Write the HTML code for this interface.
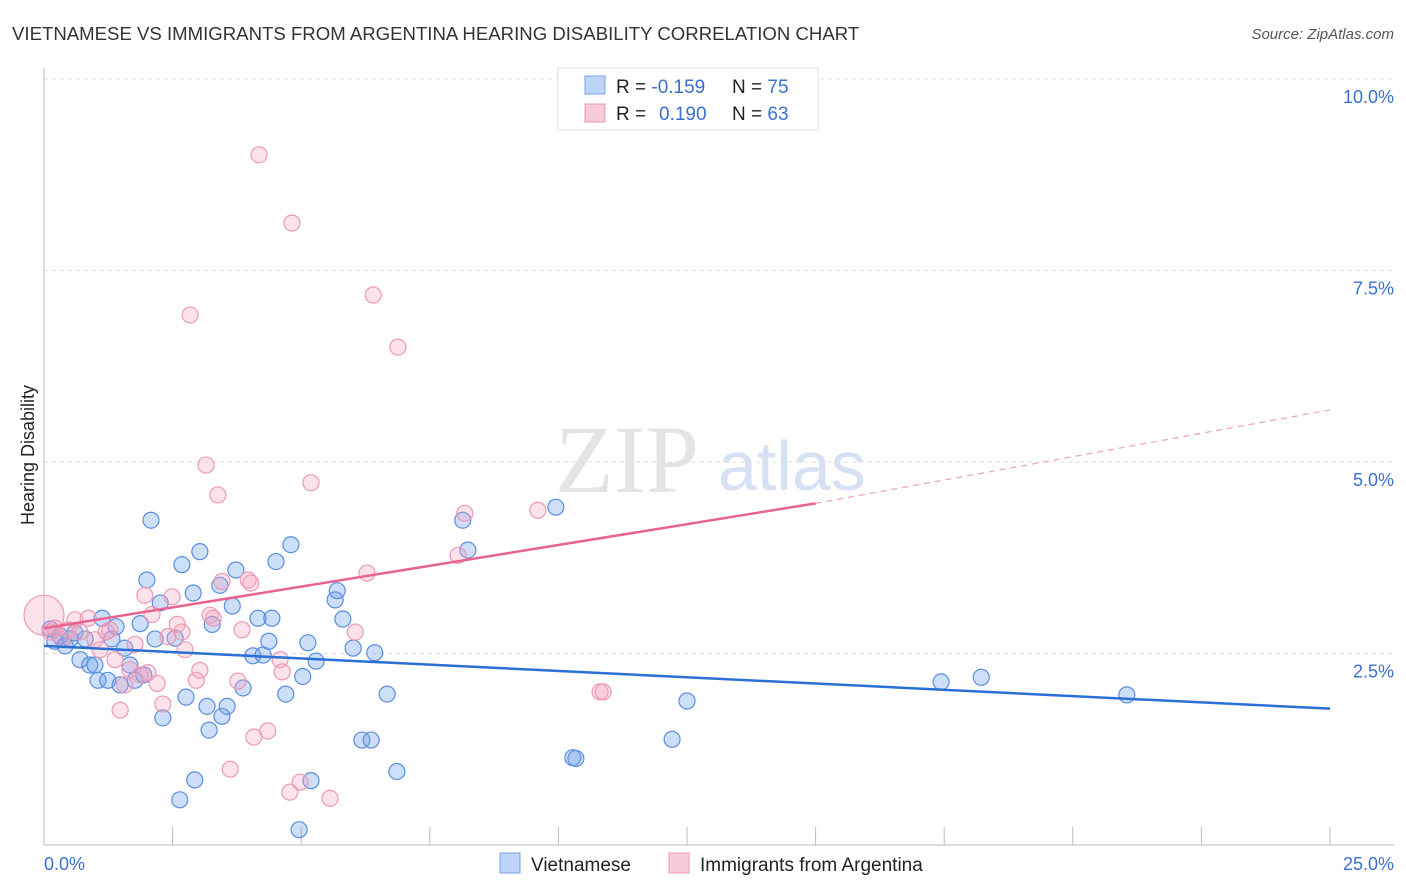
<!DOCTYPE html>
<html><head><meta charset="utf-8"><style>
body{margin:0;background:#fff;font-family:"Liberation Sans",sans-serif;}
svg{display:block}
</style></head><body>
<svg id="chart" width="1406" height="892" viewBox="0 0 1406 892">
<text x="12" y="40" font-size="18.6" fill="#333">VIETNAMESE VS IMMIGRANTS FROM ARGENTINA HEARING DISABILITY CORRELATION CHART</text>
<text x="1394" y="39" font-size="15" fill="#555" font-style="italic" text-anchor="end">Source: ZipAtlas.com</text>
<text x="555" y="492" font-size="96" fill="#e4e4e4" font-family="Liberation Serif,serif">ZIP</text>
<text x="718" y="490" font-size="70" fill="#d6e2f4">atlas</text>
<g id="grid"></g>
<g id="axes"></g>
<g id="points"></g>
<g id="lines"></g>
<text transform="translate(34,455) rotate(-90)" font-size="18" fill="#222" text-anchor="middle">Hearing Disability</text>
<text x="44" y="870" font-size="18" fill="#3a70d0">0.0%</text>
<text x="1394" y="870" font-size="18" fill="#3a70d0" text-anchor="end">25.0%</text>
<g>
<rect x="558" y="68" width="260" height="62" fill="#fff" stroke="#ddd"/>
<rect x="585" y="76" width="20" height="18" fill="#bcd4f6" stroke="#7aa3e6"/>
<rect x="585" y="104" width="20" height="18" fill="#f8cbd9" stroke="#ec9ab4"/>
<text x="616" y="93" font-size="19" fill="#222">R = <tspan fill="#3a70d0">-0.159</tspan><tspan x="732">N = </tspan><tspan fill="#3a70d0">75</tspan></text>
<text x="616" y="120" font-size="19" fill="#222">R = <tspan fill="#3a70d0" x="659">0.190</tspan><tspan x="732">N = </tspan><tspan fill="#3a70d0">63</tspan></text>
</g>
<g>
<rect x="500" y="853" width="20" height="20" fill="#bcd4f6" stroke="#7aa3e6"/>
<text x="531" y="871" font-size="19" fill="#222">Vietnamese</text>
<rect x="669" y="853" width="20" height="20" fill="#f8cbd9" stroke="#ec9ab4"/>
<text x="700" y="871" font-size="19" fill="#222">Immigrants from Argentina</text>
</g>
</svg>
<script>
const yTicks=[2.5,5.0,7.5,10.0];
const xTicks=[0,2.5,5,7.5,10,12.5,15,17.5,20,22.5,25];
const blueX=[0.12,0.21,0.31,0.41,0.51,0.60,0.70,0.80,0.89,0.99,1.05,1.13,1.24,1.32,1.40,1.48,1.57,1.67,1.77,1.87,1.94,2.00,2.08,2.16,2.26,2.31,2.55,2.64,2.68,2.76,2.90,2.93,3.03,3.17,3.21,3.27,3.42,3.46,3.56,3.66,3.73,3.87,4.06,4.16,4.26,4.37,4.43,4.51,4.70,4.80,4.96,5.03,5.13,5.19,5.29,5.66,5.70,5.81,6.01,6.18,6.36,6.43,6.67,6.86,8.14,8.24,9.95,10.28,10.34,12.21,12.50,17.44,18.22,21.05];
const blueY=[2.82,2.66,2.73,2.60,2.69,2.77,2.42,2.69,2.35,2.35,2.15,2.96,2.15,2.69,2.85,2.09,2.57,2.35,2.15,2.89,2.22,3.46,4.24,2.69,3.16,1.66,2.70,0.59,3.66,1.93,3.29,0.85,3.83,1.81,1.50,2.88,3.39,1.68,1.81,3.12,3.59,2.05,2.47,2.96,2.48,2.66,2.96,3.70,1.97,3.92,0.20,2.20,2.64,0.84,2.40,3.20,3.32,2.95,2.57,1.37,1.37,2.51,1.97,0.96,4.24,3.85,4.41,1.14,1.13,1.38,1.88,2.13,2.19,1.96];
const pinkX=[0.0,0.12,0.21,0.35,0.47,0.60,0.70,0.86,0.99,1.09,1.21,1.28,1.38,1.48,1.57,1.67,1.77,1.87,1.96,2.02,2.10,2.20,2.31,2.41,2.49,2.59,2.68,2.74,2.84,2.96,3.03,3.15,3.23,3.29,3.38,3.46,3.62,3.77,3.85,3.97,4.02,4.08,4.18,4.35,4.59,4.63,4.78,4.82,4.98,5.19,5.56,6.05,6.28,6.40,6.88,8.05,8.18,9.60,10.81,10.87];
const pinkY=[3.00,2.78,2.83,2.68,2.81,2.94,2.78,2.96,2.68,2.55,2.78,2.81,2.42,1.76,2.09,2.29,2.62,2.22,3.26,2.25,3.01,2.11,1.84,2.72,3.24,2.88,2.78,2.55,6.92,2.15,2.28,4.96,3.00,2.96,4.57,3.44,0.99,2.14,2.81,3.46,3.42,1.41,9.01,1.49,2.42,2.26,0.69,8.12,0.82,4.73,0.61,2.78,3.55,7.18,6.50,3.78,4.33,4.37,2.00,2.00];
const blueLine=[2.6,1.78];
const pinkLine=[2.83,4.46,5.68];
const NS='http://www.w3.org/2000/svg';
const X=v=>44+v*(1286/25);
const Y=v=>845-v*76.6;
function mk(t,a,p){const e=document.createElementNS(NS,t);for(const k in a)e.setAttribute(k,a[k]);p.appendChild(e);return e;}
const grid=document.getElementById('grid'),axes=document.getElementById('axes'),pts=document.getElementById('points'),lines=document.getElementById('lines');
yTicks.forEach(t=>{
 const l=mk('line',{x1:44,x2:1394,y1:Y(t),y2:Y(t),stroke:'#ddd','stroke-dasharray':'4,4'},grid);
 
 
 const tx=mk('text',{x:1394,y:Y(t)+24,'font-size':18,fill:'#3a70d0','text-anchor':'end'},grid);
 tx.textContent=t.toFixed(1)+'%';
 
 
});
const ax=mk('line',{x1:44,x2:44,y1:68,y2:845,stroke:'#bbb'},axes);


const bx=mk('line',{x1:44,x2:1394,y1:845,y2:845,stroke:'#bbb'},axes);


xTicks.forEach(t=>{
 const l=mk('line',{x1:X(t),x2:X(t),y1:827,y2:845,stroke:'#bbb'},axes);
 
 
});
blueX.forEach((v,i)=>{
 const c=mk('circle',{cx:X(v),cy:Y(blueY[i]),r:8,fill:'rgba(110,160,235,0.35)',stroke:'#5a8ee0','stroke-width':1.2},pts);
 
 
});
pinkX.forEach((v,i)=>{
 const c=mk('circle',{cx:X(v),cy:Y(pinkY[i]),r:i===0?20:8,fill:'rgba(245,160,190,0.3)',stroke:'#ec9ab4','stroke-width':1.2},pts);
 
 
});
const bl=mk('line',{x1:X(0),y1:Y(blueLine[0]),x2:X(25),y2:Y(blueLine[1]),stroke:'#2a6fd6','stroke-width':2.5},lines);


const pl=mk('line',{x1:X(0),y1:Y(pinkLine[0]),x2:X(15),y2:Y(pinkLine[1]),stroke:'#e8638f','stroke-width':2.5},lines);


const pd=mk('line',{x1:X(15),y1:Y(pinkLine[1]),x2:X(25),y2:Y(pinkLine[2]),stroke:'#eda0b8','stroke-width':1.2,'stroke-dasharray':'6,5'},lines);


</script>
</body></html>
